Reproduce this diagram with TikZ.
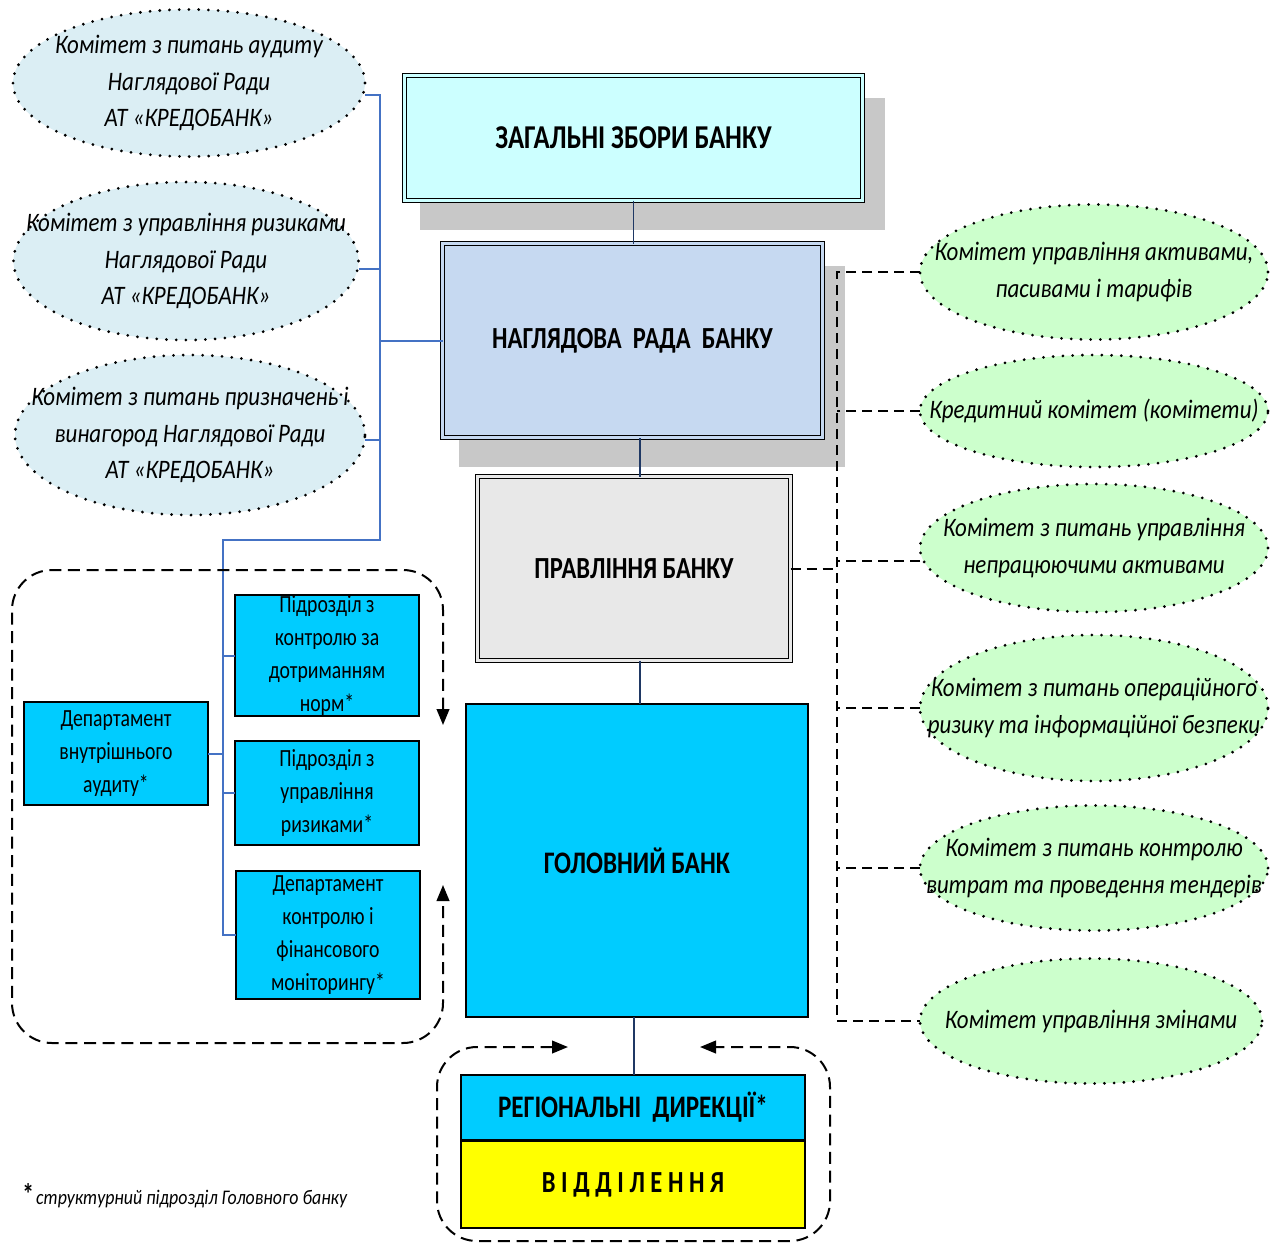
\documentclass[tikz,border=0pt]{standalone}
\usepackage{fontspec}
\setmainfont{Carlito}[FakeStretch=0.8]
\newfontfamily\itfam{Carlito}[FakeStretch=0.86]
\usetikzlibrary{shapes.geometric,arrows.meta}
\definecolor{zzfill}{HTML}{CCFFFF}
\definecolor{nrfill}{HTML}{C6D9F1}
\definecolor{prfill}{HTML}{E8E8E8}
\definecolor{gbfill}{HTML}{00CCFF}
\definecolor{vdfill}{HTML}{FFFF00}
\definecolor{ellblue}{HTML}{DBEEF4}
\definecolor{ellgreen}{HTML}{CCFFCC}
\definecolor{shadowc}{HTML}{C8C8C8}
\definecolor{blueline}{HTML}{4472C4}
\definecolor{navy}{HTML}{1F3864}
\tikzset{
  sz/.style 2 args={minimum width=#1*0.75pt, minimum height=#2*0.75pt},
  dbox/.style={rectangle, draw=black, line width=0.8pt, double=#1, double distance=2.4pt, fill=#1, inner sep=0pt, outer sep=0pt},
  sbox/.style={rectangle, draw=black, line width=1.5pt, fill=gbfill, inner sep=0pt, outer sep=0pt},
  hdr/.style={font=\bfseries\fontsize{23}{27}\selectfont},
  stext/.style={align=center, inner sep=0pt, font=\fontsize{18.5}{24.75}\selectfont},
  ellL/.style={ellipse, fill=ellblue, draw=black, line width=2.3pt, dash pattern=on 0pt off 7.3pt, line cap=round, inner sep=0pt, outer sep=0pt},
  ellR/.style={ellipse, fill=ellgreen, draw=black, line width=2.3pt, dash pattern=on 0pt off 7.3pt, line cap=round, inner sep=0pt, outer sep=0pt},
  etext/.style={align=center, inner sep=0pt, font=\itfam\itshape\fontsize{20}{27.5}\selectfont},
  bl/.style={draw=blueline, line width=1.5pt},
  nv/.style={draw=navy, line width=1.2pt},
  dsh/.style={draw=black, line width=1.5pt, dash pattern=on 7.5pt off 4.5pt},
  rdsh/.style={draw=black, line width=1.5pt, dash pattern=on 9pt off 5pt, rounded corners=30pt},
}
\begin{document}
\begin{tikzpicture}[x=0.75pt,y=-0.75pt]
\useasboundingbox (0,0) rectangle (1277,1243);
% shadows
\fill[shadowc] (420,98) rectangle (885,230);
\fill[shadowc] (459,266) rectangle (845,467);
% central boxes
\node[dbox=zzfill, sz={458}{125}, font=\bfseries\fontsize{25}{28}\selectfont] (zz) at (633.5,138) {ЗАГАЛЬНІ ЗБОРИ БАНКУ};
\node[dbox=nrfill, sz={380}{194}, hdr] (nr) at (632.5,340.5) {НАГЛЯДОВА\ \ РАДА\ \ БАНКУ};
\node[dbox=prfill, sz={313}{184}, font=\bfseries\fontsize{23}{26}\selectfont] (pr) at (634,568.5) {ПРАВЛІННЯ БАНКУ};
\node[sbox, sz={342}{313}, font=\bfseries\fontsize{23.5}{26}\selectfont] (gb) at (637,860.5) {ГОЛОВНИЙ БАНК};
\node[sbox, sz={344}{65}, font=\bfseries\fontsize{23.5}{26}\selectfont] (rd) at (633,1107.5) {РЕГІОНАЛЬНІ\ \ ДИРЕКЦІЇ*};
\node[sbox, fill=vdfill, sz={344}{87}, font=\bfseries\fontsize{23}{26}\selectfont] (vd) at (633,1184.5) {В І Д Д І Л Е Н Н Я};
% small boxes
\node[sbox, sz={184}{103}] (da) at (116,753.5) {};
\node[stext] at (da) {Департамент\\внутрішнього\\аудиту*};
\node[sbox, sz={184}{121}] (p1) at (327,655.5) {};
\node[stext] at (p1) {Підрозділ з\\контролю за\\дотриманням\\норм*};
\node[sbox, sz={184}{104}] (p2) at (327,793) {};
\node[stext] at (p2) {Підрозділ з\\управління\\ризиками*};
\node[sbox, sz={184}{128}] (dk) at (328,935) {};
\node[stext] at (dk) {Департамент\\контролю і\\фінансового\\моніторингу*};
% left ellipses
\node[ellL, sz={352}{147}] (E1) at (189,83) {};
\node[etext] at (E1) {Комітет з питань аудиту\\Наглядової Ради\\АТ «КРЕДОБАНК»};
\node[ellL, sz={345}{158}] (E2) at (186,261) {};
\node[etext] at (E2) {Комітет з управління ризиками\\Наглядової Ради\\АТ «КРЕДОБАНК»};
\node[ellL, sz={350}{160}] (E3) at (190,435) {};
\node[etext] at (E3) {Комітет з питань призначень і\\винагород Наглядової Ради\\АТ «КРЕДОБАНК»};
% right ellipses
\node[ellR, sz={348}{135}] (R1) at (1094,272) {};
\node[etext] at (R1) {Комітет управління активами,\\пасивами і тарифів};
\node[ellR, sz={348}{112}] (R2) at (1094,411) {};
\node[etext] at (R2) {Кредитний комітет (комітети)};
\node[ellR, sz={348}{128}] (R3) at (1094,548) {};
\node[etext] at (R3) {Комітет з питань управління\\непрацюючими активами};
\node[ellR, sz={348}{146}] (R4) at (1094,708) {};
\node[etext] at (R4) {Комітет з питань операційного\\ризику та інформаційної безпеки};
\node[ellR, sz={348}{125}] (R5) at (1094,868) {};
\node[etext] at (R5) {Комітет з питань контролю\\витрат та проведення тендерів};
\node[ellR, sz={342}{125}] (R6) at (1091,1021) {};
\node[etext] at (R6) {Комітет управління змінами};
% navy vertical connectors
\draw[nv] (zz.south) -- (zz.south |- nr.north);
\draw[nv] ([xshift=4.5pt]pr.north) -- ([xshift=4.5pt]pr.north |- nr.south);
\draw[nv] ([xshift=4.5pt]pr.south) -- ([xshift=4.5pt]pr.south |- gb.north);
\draw[nv] ([xshift=-2.25pt]gb.south) -- ([xshift=-2.25pt]gb.south |- rd.north);
% blue connectors
\coordinate (tA) at (380,540);
\coordinate (tB) at (223,540);
\draw[bl] ([yshift=-9pt]E1.east) -| (tA) -- (tB) |- (dk.west);
\draw[bl] ([yshift=-6pt]E2.east) -- ([yshift=-6pt]E2.east -| tA);
\draw[bl] ([yshift=-3.5pt]E3.east) -- ([yshift=-3.5pt]E3.east -| tA);
\draw[bl] (nr.west) -- (nr.west -| tA);
\draw[bl] (p1.west) -- (p1.west -| tB);
\draw[bl] (p2.west) -- (p2.west -| tB);
\draw[bl] (da.east) -- (da.east -| tB);
% right dashed connectors
\coordinate (tR) at (837,0);
\draw[dsh] (R1.west) -- (R1.west -| tR) |- (R6.west);
\draw[dsh] (R2.west) -- (R2.west -| tR);
\draw[dsh] ([yshift=-9.75pt]R3.west) -- ([yshift=-9.75pt]R3.west -| tR);
\draw[dsh] (R4.west) -- (R4.west -| tR);
\draw[dsh] (R5.west) -- (R5.west -| tR);
\draw[dsh] (pr.east) -- (pr.east -| tR);
% dashed rounded groups with arrows
\coordinate (gL1) at (443,725);
\coordinate (gL2) at (443,885);
\draw[rdsh, {Triangle[length=12pt,width=9.5pt]}-{Triangle[length=12pt,width=9.5pt]}] (gL1) -- (443,570) -- (12,570) -- (12,1043) -- (443,1043) -- (gL2);
\coordinate (gB1) at (568,1047);
\coordinate (gB2) at (700,1047);
\draw[rdsh, {Triangle[length=12pt,width=9.5pt]}-{Triangle[length=12pt,width=9.5pt]}] (gB1) -- (437,1047) -- (437,1241) -- (830,1241) -- (830,1047) -- (gB2);
% footnote
\node[anchor=west, inner sep=0pt] (fn) at (22,1196) {{\bfseries\fontsize{22}{22}\selectfont *}\,{\itfam\itshape\fontsize{15.6}{18}\selectfont структурний підрозділ Головного банку}};
\end{tikzpicture}
\end{document}
